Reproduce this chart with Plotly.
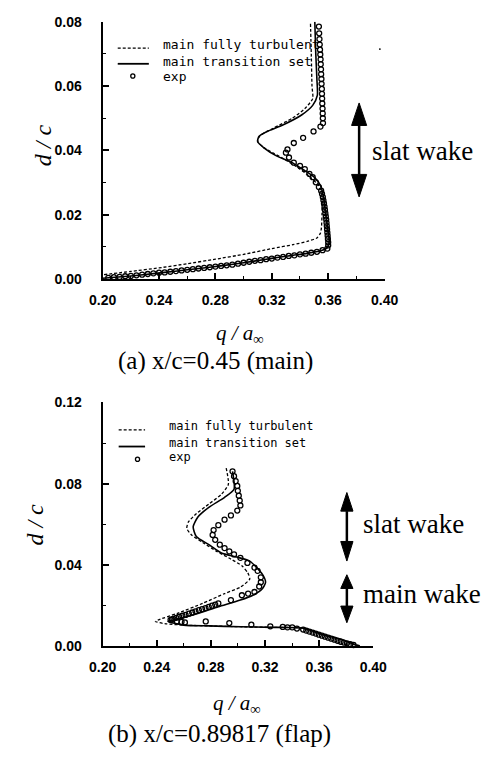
import plotly.graph_objects as go

W, H = 491, 757

# ---------------- data: (a) x/c=0.45 (main) ----------------
a_turb_q = [0.201, 0.220, 0.240, 0.260, 0.280, 0.300, 0.320, 0.335, 0.3456, 0.352, 0.3545, 0.3552,
            0.3556, 0.3556, 0.3552, 0.3525, 0.347, 0.339, 0.330, 0.321, 0.314, 0.310, 0.3115, 0.3211,
            0.3345, 0.3434, 0.3490, 0.3485, 0.3480, 0.3474]
a_turb_d = [0.0014, 0.0024, 0.0035, 0.0048, 0.0062, 0.0077, 0.0095, 0.0107, 0.0118, 0.0128, 0.0143, 0.0160,
            0.0200, 0.0250, 0.0275, 0.0295, 0.0318, 0.0345, 0.0370, 0.0392, 0.0410, 0.0428, 0.0445, 0.0469,
            0.0500, 0.0530, 0.0561, 0.0600, 0.0700, 0.0800]

a_trans_q = [0.200, 0.220, 0.2375, 0.250, 0.270, 0.285, 0.300, 0.315, 0.325, 0.335, 0.345, 0.3545,
             0.3594, 0.3608, 0.3601, 0.3585, 0.3567, 0.3545, 0.3501, 0.3434, 0.3345, 0.3233, 0.3144,
             0.3099, 0.3110, 0.3166, 0.3278, 0.3411, 0.3490, 0.3523, 0.3520, 0.3512, 0.3505]
a_trans_d = [0.0003, 0.0010, 0.0018, 0.0024, 0.0034, 0.0042, 0.0051, 0.0061, 0.0068, 0.0074, 0.0080, 0.0088,
             0.0098, 0.0118, 0.0143, 0.0194, 0.0256, 0.0291, 0.0317, 0.0337, 0.0362, 0.0383, 0.0408,
             0.0428, 0.0444, 0.0459, 0.0479, 0.0510, 0.0540, 0.0571, 0.0620, 0.0700, 0.0800]

a_exp_q = [0.204, 0.208, 0.212, 0.216, 0.220, 0.224, 0.228, 0.232, 0.236, 0.240, 0.244, 0.248, 0.252,
           0.256, 0.260, 0.264, 0.268, 0.272, 0.276, 0.280, 0.284, 0.288, 0.292, 0.296, 0.300, 0.304,
           0.308, 0.312, 0.316, 0.320, 0.324, 0.328, 0.332, 0.336, 0.340, 0.344, 0.348, 0.352, 0.356,
           0.3594, 0.3600, 0.3600, 0.3598, 0.3596, 0.3594, 0.3592, 0.3590, 0.3588, 0.3586, 0.3583,
           0.3580, 0.3577, 0.3574, 0.3570, 0.3566, 0.3562, 0.3556, 0.3550,
           0.3534, 0.3512, 0.3490, 0.3467, 0.3434, 0.3400, 0.3356, 0.3322, 0.3300, 0.3311, 0.3356,
           0.3422, 0.3496, 0.3545,
           0.3563, 0.3562, 0.3561, 0.3560, 0.3558, 0.3557, 0.3556, 0.3555, 0.3553, 0.3552, 0.3550,
           0.3549, 0.3547, 0.3546, 0.3544, 0.3542, 0.3540, 0.3538, 0.3536, 0.3534]
a_exp_d = [0.0004, 0.0006, 0.0007, 0.0009, 0.0010, 0.0012, 0.0014, 0.0016, 0.0018, 0.0020, 0.0021, 0.0023,
           0.0025, 0.0027, 0.0029, 0.0031, 0.0033, 0.0035, 0.0037, 0.0039, 0.0041, 0.0043, 0.0045, 0.0048,
           0.0051, 0.0054, 0.0057, 0.0059, 0.0062, 0.0064, 0.0067, 0.0069, 0.0072, 0.0074, 0.0077, 0.0079,
           0.0082, 0.0085, 0.0090,
           0.0095, 0.0105, 0.0115, 0.0125, 0.0135, 0.0145, 0.0155, 0.0165, 0.0175, 0.0185, 0.0195,
           0.0205, 0.0215, 0.0225, 0.0235, 0.0245, 0.0255, 0.0265, 0.0275,
           0.0286, 0.0301, 0.0317, 0.0327, 0.0342, 0.0352, 0.0362, 0.0378, 0.0393, 0.0403, 0.0423,
           0.0439, 0.0459, 0.0474,
           0.0485, 0.0500, 0.0515, 0.0530, 0.0546, 0.0561, 0.0576, 0.0591, 0.0607, 0.0622, 0.0637,
           0.0652, 0.0668, 0.0683, 0.0698, 0.0713, 0.0729, 0.0746, 0.0764, 0.0785]

# ---------------- data: (b) x/c=0.89817 (flap) ----------------
b_turb_q = [0.2913, 0.2929, 0.2878, 0.2785, 0.2692, 0.2634, 0.2622, 0.2657, 0.2739, 0.2843, 0.2948,
            0.3031, 0.3073, 0.3087, 0.3018, 0.2901, 0.2739, 0.2553, 0.2413, 0.2390, 0.2460, 0.2599,
            0.2785, 0.3018, 0.3250, 0.3389, 0.3482, 0.3530, 0.3622, 0.3761, 0.3854, 0.3900]
b_turb_d = [0.0877, 0.0797, 0.0748, 0.0700, 0.0652, 0.0612, 0.0580, 0.0548, 0.0511, 0.0467, 0.0429,
            0.0395, 0.0361, 0.0331, 0.0291, 0.0259, 0.0211, 0.0162, 0.0130, 0.0122, 0.0111, 0.0104,
            0.0100, 0.0096, 0.0093, 0.0092, 0.0089, 0.0080, 0.0058, 0.0034, 0.0010, 0.0002]

b_trans_q = [0.2960, 0.2971, 0.2901, 0.2785, 0.2704, 0.2669, 0.2692, 0.2785, 0.2878, 0.2983, 0.3087,
             0.3180, 0.3204, 0.3180, 0.3110, 0.3018, 0.2855, 0.2669, 0.2530, 0.2483, 0.2599, 0.2785,
             0.3018, 0.3250, 0.3389, 0.3482, 0.3530, 0.3622, 0.3761, 0.3854, 0.3900]
b_trans_d = [0.0861, 0.0773, 0.0733, 0.0684, 0.0636, 0.0588, 0.0540, 0.0500, 0.0459, 0.0440, 0.0419,
             0.0355, 0.0315, 0.0283, 0.0251, 0.0227, 0.0194, 0.0154, 0.0130, 0.0122, 0.0104, 0.0100,
             0.0096, 0.0093, 0.0092, 0.0089, 0.0080, 0.0058, 0.0034, 0.0010, 0.0002]

b_exp_q = [0.2960, 0.2971, 0.2983, 0.2995, 0.2999, 0.3006, 0.3013, 0.3018, 0.2995, 0.2948, 0.2901,
           0.2855, 0.2820, 0.2813, 0.2832, 0.2866, 0.2901, 0.2936, 0.2971,
           0.3018, 0.3070, 0.3122, 0.3145, 0.3169, 0.3169, 0.3157, 0.3122, 0.3075, 0.3029, 0.2948,
           0.2855, 0.2832, 0.2808, 0.2784, 0.2760, 0.2735, 0.2711, 0.2686, 0.2662, 0.2637, 0.2613,
           0.2589, 0.2565, 0.2544, 0.2523, 0.2512, 0.2502,
           0.2548, 0.2583, 0.2608,
           0.2762, 0.2936, 0.3099, 0.3239, 0.3331, 0.3366, 0.3401, 0.3436,
           0.3482, 0.3505, 0.3528, 0.3552, 0.3575, 0.3598, 0.3621, 0.3644, 0.3667, 0.3690, 0.3713,
           0.3736, 0.3759, 0.3782, 0.3805, 0.3830, 0.3854]
b_exp_d = [0.0861, 0.0837, 0.0813, 0.0789, 0.0765, 0.0741, 0.0717, 0.0693, 0.0668, 0.0644, 0.0623,
           0.0596, 0.0572, 0.0548, 0.0524, 0.0500, 0.0483, 0.0467, 0.0452,
           0.0435, 0.0410, 0.0387, 0.0371, 0.0339, 0.0315, 0.0294, 0.0267, 0.0259, 0.0251, 0.0227,
           0.0211, 0.0205, 0.0200, 0.0194, 0.0188, 0.0183, 0.0178, 0.0172, 0.0166, 0.0160, 0.0154,
           0.0150, 0.0145, 0.0140, 0.0135, 0.0132, 0.0130,
           0.0122, 0.0120, 0.0117,
           0.0122, 0.0114, 0.0106, 0.0098, 0.0095, 0.0093, 0.0093, 0.0087,
           0.0082, 0.0077, 0.0072, 0.0067, 0.0062, 0.0057, 0.0052, 0.0047, 0.0042, 0.0037, 0.0032,
           0.0027, 0.0022, 0.0018, 0.0014, 0.0010, 0.0006]

x_tick_vals = [0.20, 0.24, 0.28, 0.32, 0.36, 0.40]
a_y_tick_vals = [0.00, 0.02, 0.04, 0.06, 0.08]
b_y_tick_vals = [0.00, 0.04, 0.08, 0.12]

legend_labels = ["main fully turbulent", "main transition set", "exp"]


def px(x):
    return x / W


def py(y):
    return 1 - y / H


dash_line = dict(color="black", width=1.3, dash="3px,2px", shape="spline", smoothing=0.6)
solid_line = dict(color="black", width=1.6, shape="spline", smoothing=0.6)
exp_marker = dict(symbol="circle-open", size=5, color="black", line=dict(width=1.3, color="black"))

fig = go.Figure()
for xa, ya, tq, td, sq, sd, eq, ed in [
    ("x", "y", a_turb_q, a_turb_d, a_trans_q, a_trans_d, a_exp_q, a_exp_d),
    ("x2", "y2", b_turb_q, b_turb_d, b_trans_q, b_trans_d, b_exp_q, b_exp_d),
]:
    fig.add_trace(go.Scatter(x=tq, y=td, mode="lines", line=dash_line, xaxis=xa, yaxis=ya,
                             name=legend_labels[0], showlegend=False, cliponaxis=False))
    fig.add_trace(go.Scatter(x=sq, y=sd, mode="lines", line=solid_line, xaxis=xa, yaxis=ya,
                             name=legend_labels[1], showlegend=False, cliponaxis=False))
    fig.add_trace(go.Scatter(x=eq, y=ed, mode="markers", marker=exp_marker, xaxis=xa, yaxis=ya,
                             name=legend_labels[2], showlegend=False, cliponaxis=False))

tickfont = dict(family="Liberation Sans, Arial", size=14, color="black", weight="bold")
common = dict(showline=True, linecolor="black", linewidth=2, ticks="inside", ticklen=6,
              tickwidth=1.5, tickcolor="black", showgrid=False, zeroline=False,
              tickformat=".2f", tickfont=tickfont, fixedrange=True)

fig.update_layout(
    width=W, height=H, margin=dict(l=0, r=0, t=0, b=0),
    paper_bgcolor="white", plot_bgcolor="white", showlegend=False,
    xaxis=dict(domain=[px(94), px(393)], anchor="y", range=[0.2, 0.4], tickvals=x_tick_vals,
               minor=dict(ticks="inside", ticklen=3, tickwidth=1.2, tickcolor="black", dtick=0.02, tick0=0.2),
               ticklabelstandoff=7, **common),
    yaxis=dict(domain=[py(277), py(14)], anchor="x", range=[0, 0.08], tickvals=a_y_tick_vals,
               minor=dict(ticks="inside", ticklen=3, tickwidth=1.2, tickcolor="black", dtick=0.01, tick0=0),
               ticklabelstandoff=16, **common),
    xaxis2=dict(domain=[px(94), px(381)], anchor="y2", range=[0.2, 0.4], tickvals=x_tick_vals,
                minor=dict(ticks="inside", ticklen=3, tickwidth=1.2, tickcolor="black", dtick=0.02, tick0=0.2),
                ticklabelstandoff=7, **common),
    yaxis2=dict(domain=[py(652), py(403)], anchor="x2", range=[0, 0.12], tickvals=b_y_tick_vals,
                minor=dict(ticks="inside", ticklen=3, tickwidth=1.2, tickcolor="black", dtick=0.02, tick0=0),
                ticklabelstandoff=16, **common),
)

shapes = []
annotations = []


def text(x, y, s, size, family, xanchor="center", angle=0):
    annotations.append(dict(x=px(x), y=py(y), xref="paper", yref="paper", text=s, showarrow=False,
                            xanchor=xanchor, yanchor="middle", textangle=angle, borderpad=0,
                            font=dict(family=family, size=size, color="black")))


def legend(x0, x1, ydash, ysolid, mx, my, tx, ty, size):
    shapes.append(dict(type="line", xref="paper", yref="paper", x0=px(x0), x1=px(x1), y0=py(ydash), y1=py(ydash),
                       line=dict(color="black", width=1.3, dash="3px,2px")))
    shapes.append(dict(type="line", xref="paper", yref="paper", x0=px(x0), x1=px(x1), y0=py(ysolid), y1=py(ysolid),
                       line=dict(color="black", width=1.8)))
    shapes.append(dict(type="circle", xref="paper", yref="paper", x0=px(mx - 2.2), x1=px(mx + 2.2),
                       y0=py(my + 2.2), y1=py(my - 2.2), line=dict(color="black", width=1.3)))
    for lab, yy in zip(legend_labels, ty):
        text(tx, yy, lab, size, "DejaVu Sans Mono", xanchor="left")


def double_arrow(x, top, top_base, bot_base, bot, hw):
    shapes.append(dict(type="line", xref="paper", yref="paper", x0=px(x), x1=px(x), y0=py(top_base), y1=py(bot_base),
                       line=dict(color="black", width=2.5)))
    shapes.append(dict(type="path", xref="paper", yref="paper",
                       path=f"M {px(x)} {py(top)} L {px(x - hw)} {py(top_base)} L {px(x + hw)} {py(top_base)} Z",
                       fillcolor="black", line=dict(color="black", width=1)))
    shapes.append(dict(type="path", xref="paper", yref="paper",
                       path=f"M {px(x)} {py(bot)} L {px(x - hw)} {py(bot_base)} L {px(x + hw)} {py(bot_base)} Z",
                       fillcolor="black", line=dict(color="black", width=1)))


serif = "Liberation Serif, Times New Roman"

# panel (a)
legend(110, 143, 41, 57, 126, 69.5, 157, [37, 55, 70], 13)
double_arrow(366, 97, 120, 170, 193, 8)
text(379, 146, "slat wake", 27, serif, xanchor="left")
text(31, 140, "<i>d / c</i>", 24, serif, angle=-90)
text(240, 333, "<i>q / a</i><sub>∞</sub>", 21, serif)
text(214, 361, "(a) x/c=0.45 (main)", 25, serif)
shapes.append(dict(type="circle", xref="paper", yref="paper", x0=px(387), x1=px(389), y0=py(43), y1=py(41),
                   fillcolor="black", line=dict(width=0)))

# panel (b)
legend(111, 139, 431, 448, 131, 461, 163, [427, 444, 459], 12)
double_arrow(353, 495, 514, 545, 565, 6.5)
double_arrow(353, 579, 593, 611, 628, 6.5)
text(369, 527, "slat wake", 27, serif, xanchor="left")
text(369, 599, "main wake", 27, serif, xanchor="left")
text(22, 528, "<i>d / c</i>", 24, serif, angle=-90)
text(237, 711, "<i>q / a</i><sub>∞</sub>", 21, serif)
text(218, 742, "(b) x/c=0.89817 (flap)", 25, serif)

fig.update_layout(shapes=shapes, annotations=annotations)
fig.write_html("out.html")
